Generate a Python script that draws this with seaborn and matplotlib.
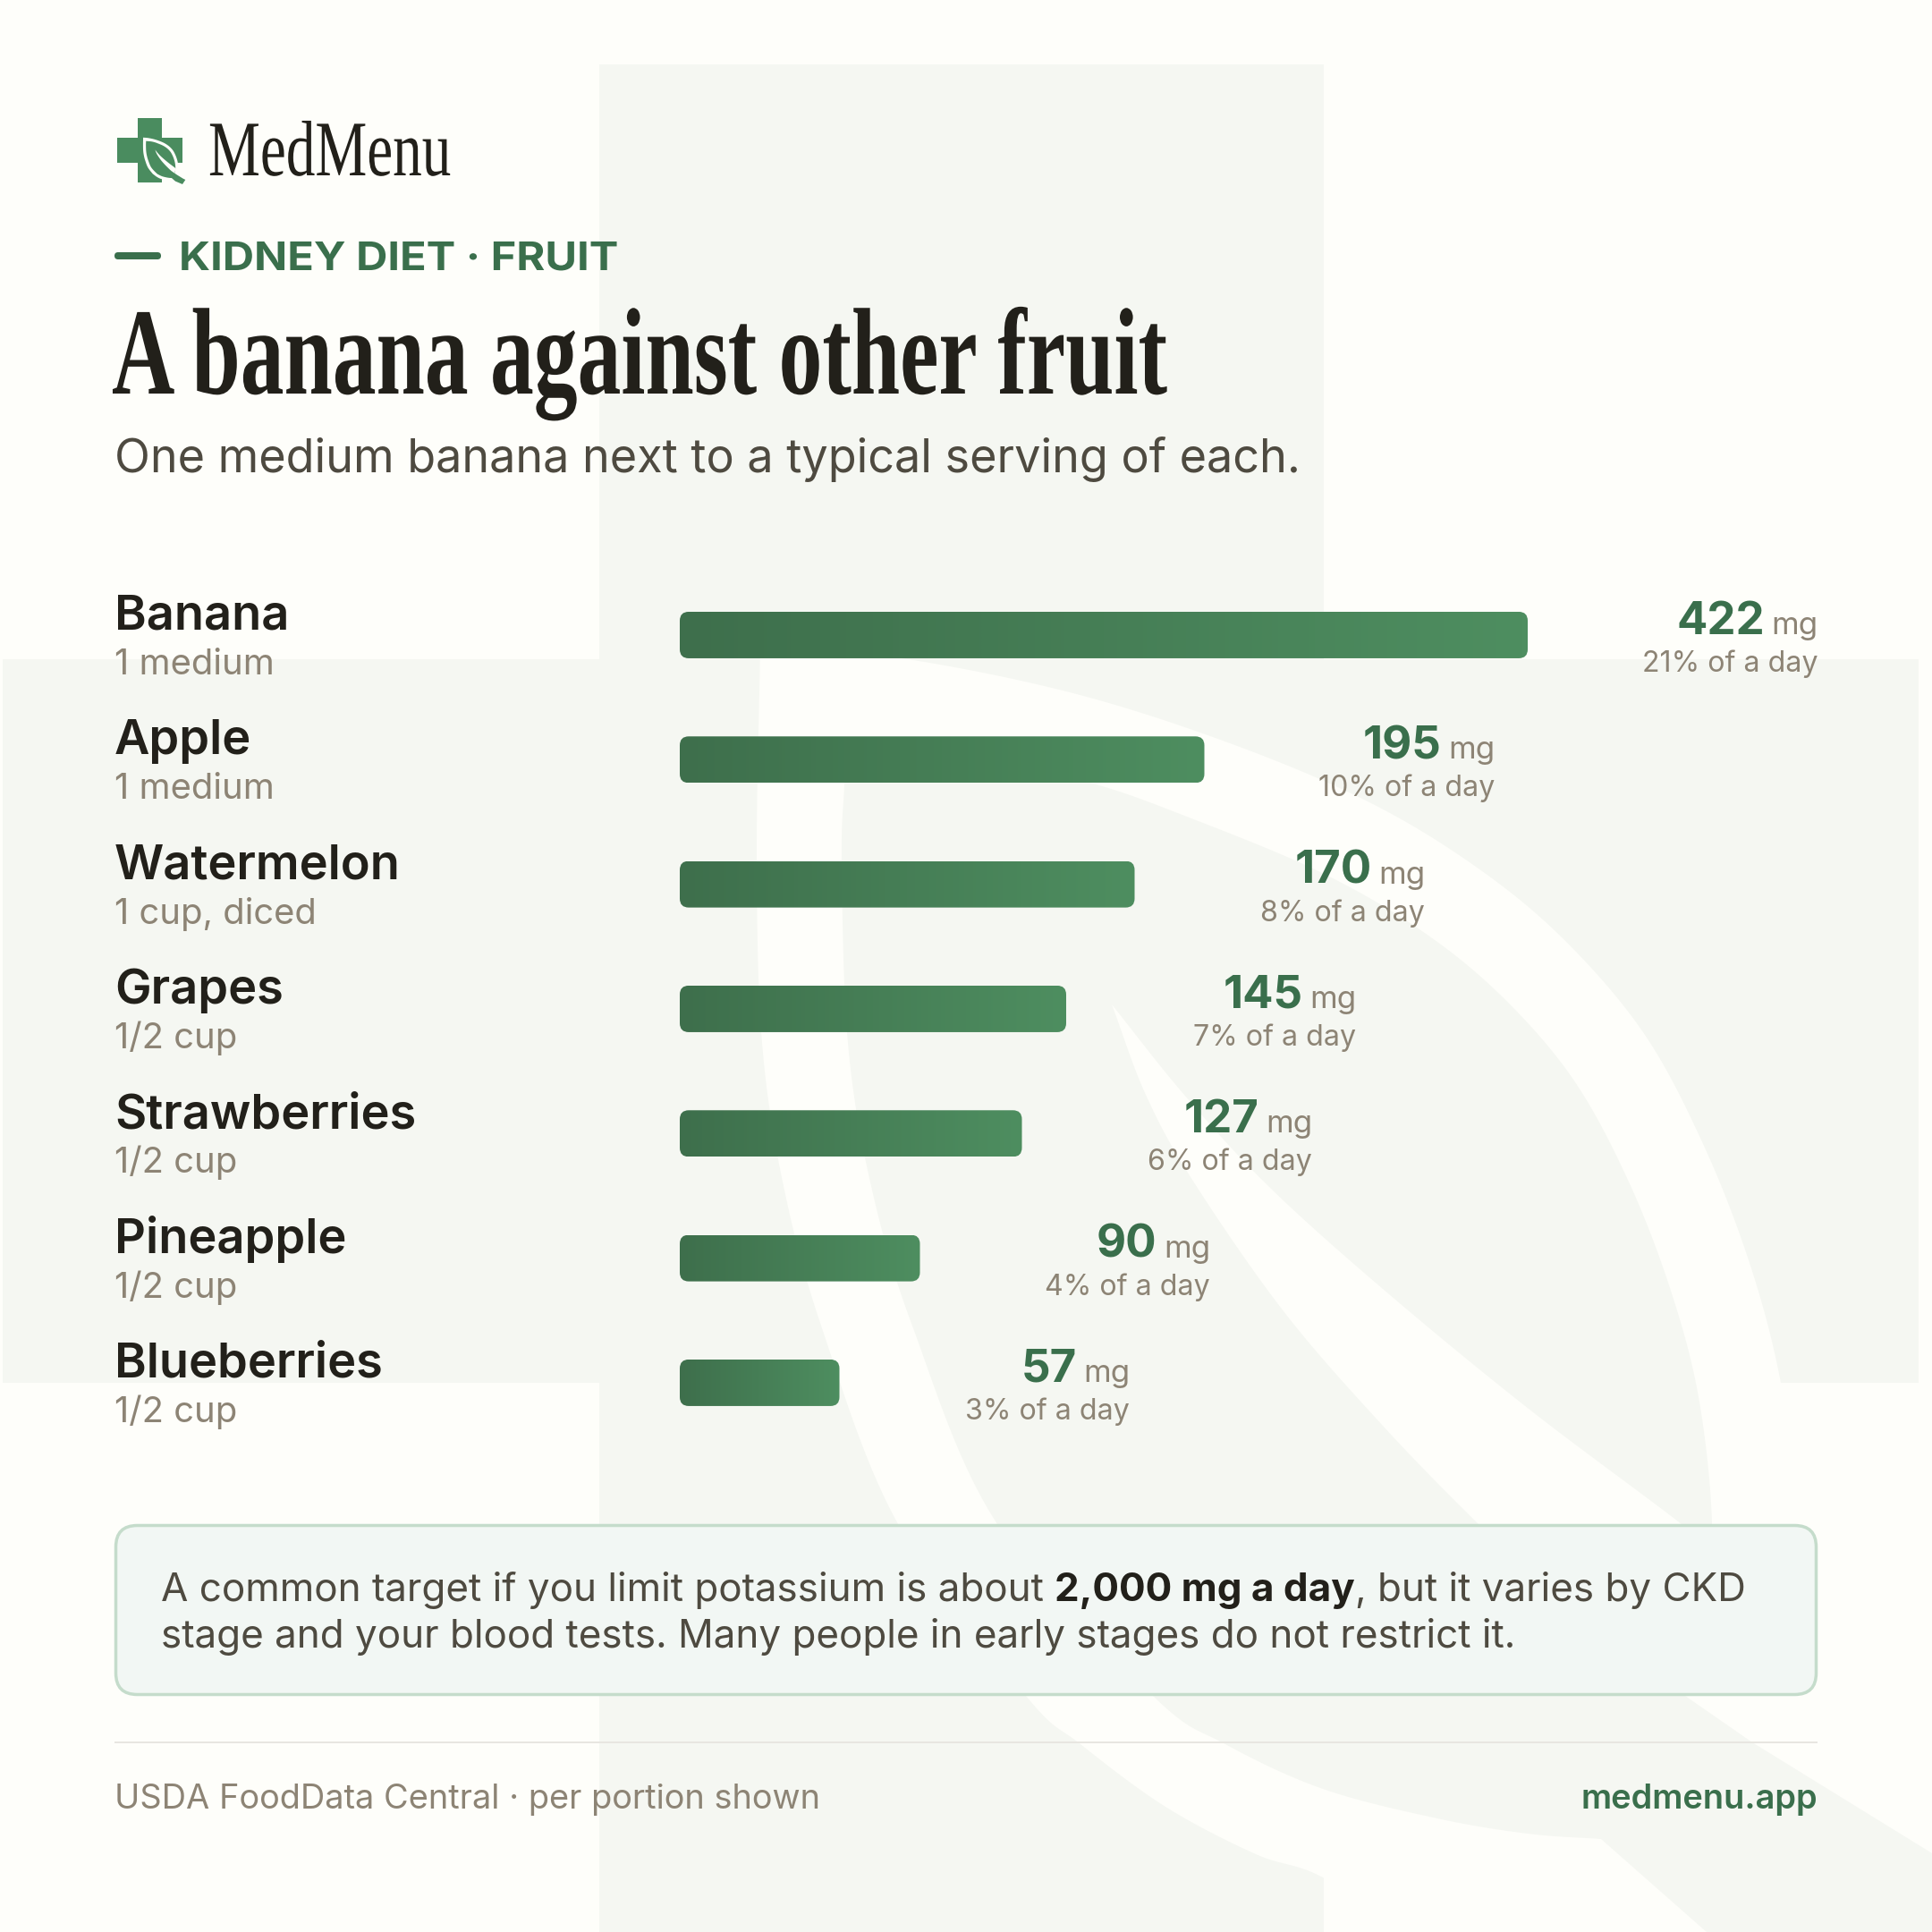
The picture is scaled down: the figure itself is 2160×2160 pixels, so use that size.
import numpy as np
import pandas as pd
import seaborn as sns
import matplotlib
matplotlib.use("Agg")
import matplotlib.pyplot as plt
from matplotlib.patches import FancyBboxPatch, Polygon
from matplotlib.patheffects import AbstractPathEffect
from matplotlib.transforms import Affine2D
from matplotlib.colors import LinearSegmentedColormap

# ---- data -------------------------------------------------------------
fruits = ["Banana", "Apple", "Watermelon", "Grapes", "Strawberries", "Pineapple", "Blueberries"]
portions = ["1 medium", "1 medium", "1 cup, diced", "1/2 cup", "1/2 cup", "1/2 cup", "1/2 cup"]
potassium_mg = [422, 195, 170, 145, 127, 90, 57]
day_share = ["21%", "10%", "8%", "7%", "6%", "4%", "3%"]
# Bar lengths: the banana bar is drawn shorter than its label.
bar_length = [316, 195.5, 169.5, 144, 127.5, 89.5, 59.5]

BG = "#FEFEFA"; WM = "#F5F7F2"; INK = "#22201A"; BODY = "#4E4A40"; MUTED = "#8D8475"
GREEN = "#3A6F4C"; LOGO = "#4A8C5F"; DARK = "#3E6F4C"; LIGHT = "#4E8E60"
BOX = "#F2F7F4"; BOXEDGE = "#C5DCCB"; RULE = "#E8E6E1"

sns.set_theme(style="white")
plt.rcParams["font.family"] = ["Inter", "DejaVu Sans"]
SERIF = ["Liberation Serif", "DejaVu Serif"]
pt = lambda px: px * 0.72

fig = plt.figure(figsize=(21.6, 21.6), dpi=100, facecolor=BG)
deco = fig.add_axes([0, 0, 1, 1], zorder=0)
deco.set_xlim(0, 2160); deco.set_ylim(2160, 0); deco.axis("off")


class WidthScale(AbstractPathEffect):
    """Keeps the text as text but draws its glyphs wider or narrower about x0 (canvas pixels)."""

    def __init__(self, x0, sx):
        super().__init__()
        self.tf = Affine2D().translate(-x0, 0).scale(sx, 1).translate(x0, 0)

    def draw_path(self, renderer, gc, tpath, affine, rgbFace=None):
        renderer.draw_path(gc, tpath, affine + self.tf, rgbFace)


def smooth(pts, n=14):
    p = np.array(pts, float)
    q = np.vstack([2 * p[0] - p[1], p, 2 * p[-1] - p[-2]])
    out = []
    for i in range(1, len(q) - 2):
        for t in np.linspace(0, 1, n, endpoint=False):
            a, b, c, d = q[i - 1], q[i], q[i + 1], q[i + 2]
            out.append(0.5 * (2 * b + (c - a) * t + (2 * a - 5 * b + 4 * c - d) * t ** 2 + (3 * b - a - 3 * c + d) * t ** 3))
    out.append(p[-1])
    return np.array(out)


outer_top = smooth([(850, 722), (1008, 736), (1196, 774), (1367, 828), (1521, 892), (1640, 962), (1743, 1045),
                    (1837, 1154), (1905, 1281), (1957, 1415), (1991, 1546), (2012, 1700), (2018, 1900)])
outer_left = smooth([(1600, 2175), (1479, 2099), (1404, 2073), (1303, 2020), (1208, 1950), (1147, 1896), (1004, 1704),
                     (919, 1485), (876, 1326), (852, 1166), (846, 962), (850, 722)])
LEAF_OUT = np.vstack([outer_top, [(2018, 2060), (1800, 2200)], outer_left])

inner_top = smooth([(943, 838), (1100, 850), (1222, 876), (1332, 915), (1474, 974), (1584, 1037), (1675, 1110),
                    (1757, 1204), (1819, 1317), (1867, 1440), (1899, 1562), (1914, 1704), (1905, 1810), (1884, 1896)])
stem = np.array([(1959, 1948), (2160, 2072), (2242, 2113), (2144, 2260), (1908, 2160), (1790, 2056)])
inner_low = smooth([(1790, 2056), (1708, 2050), (1607, 2033), (1479, 2000), (1370, 1950), (1289, 1896), (1115, 1704),
                    (1021, 1485), (974, 1326), (948, 1166), (941, 962), (944, 876), (943, 838)])
LEAF_IN = np.vstack([inner_top, stem, inner_low])

vein_up = smooth([(1243, 1123), (1324, 1224), (1418, 1326), (1546, 1441), (1709, 1575), (1880, 1704), (1925, 1745)])
vein_lo = smooth([(1884, 1896), (1770, 1815), (1653, 1704), (1546, 1594), (1435, 1466), (1333, 1319), (1281, 1224), (1243, 1123)])
VEIN = np.vstack([vein_up, vein_lo])

CROSS = np.array([(670, 72), (1480, 72), (1480, 737), (2145, 737), (2145, 1546), (1480, 1546), (1480, 2214),
                  (670, 2214), (670, 1546), (3, 1546), (3, 737), (670, 737)], float)


def emblem(color, tf):
    deco.add_patch(Polygon(tf(CROSS), closed=True, fc=color, ec="none", zorder=1))
    deco.add_patch(Polygon(tf(LEAF_OUT), closed=True, fc=BG, ec="none", zorder=1.1))
    deco.add_patch(Polygon(tf(LEAF_IN), closed=True, fc=color, ec="none", zorder=1.2))
    deco.add_patch(Polygon(tf(VEIN), closed=True, fc=BG, ec="none", zorder=1.3))


emblem(WM, lambda a: a)
emblem(LOGO, lambda a: (a - np.array([3, 72])) / 29.46 + np.array([131.3, 131.7]))

# header
deco.text(233, 196, "MedMenu", family=SERIF, fontsize=pt(88), color=INK, va="baseline", zorder=5,
          path_effects=[WidthScale(233, 0.74)])
deco.add_patch(FancyBboxPatch((128, 282), 52, 8, boxstyle="round,pad=0,rounding_size=4", fc=GREEN, ec="none", zorder=5))
deco.text(200, 302, "KIDNEY DIET · FRUIT", fontsize=pt(44), fontweight="bold", color=GREEN, va="baseline", zorder=5,
          path_effects=[WidthScale(200, 1.109)])
deco.text(125, 440, "A banana against other fruit", family=SERIF, fontweight="bold", fontsize=pt(138), color=INK,
          va="baseline", zorder=5, path_effects=[WidthScale(125, 0.707)])
deco.text(128, 528, "One medium banana next to a typical serving of each.", fontsize=pt(52.2), color=BODY,
          va="baseline", zorder=5)

# chart
frame = pd.DataFrame({"fruit": fruits, "length": bar_length})
ax = fig.add_axes([760 / 2160, 1 - 1615.6 / 2160, 1272 / 2160, 975.3 / 2160], zorder=2)
ax.patch.set_alpha(0)
sns.barplot(data=frame, x="length", y="fruit", order=fruits, orient="h", width=52 / 139.33, color=DARK, ax=ax)
ax.set_xlim(0, 424); ax.set_ylim(6.5, -0.5)
ax.set_xlabel(""); ax.set_ylabel(""); ax.set_xticks([]); ax.set_yticks([])
sns.despine(ax=ax, left=True, bottom=True)

cmap = LinearSegmentedColormap.from_list("bar", [DARK, LIGHT])
grad = np.linspace(0, 1, 256).reshape(1, -1)
aspect = (7 / 975.3) / (424 / 1272)
for rect in list(ax.patches):
    x, y, w, h = rect.get_x(), rect.get_y(), rect.get_width(), rect.get_height()
    rect.set_alpha(0)
    clip = FancyBboxPatch((x, y), w, h, boxstyle="round,pad=0,rounding_size=%f" % (10 / 3),
                          mutation_aspect=aspect, fc="none", ec="none", transform=ax.transData)
    ax.add_patch(clip)
    im = ax.imshow(grad, extent=[x, x + w, y + h, y], aspect="auto", cmap=cmap, interpolation="bilinear", zorder=3)
    im.set_clip_path(clip)
ax.set_xlim(0, 424); ax.set_ylim(6.5, -0.5)

fig.canvas.draw()
rend = fig.canvas.get_renderer()
for i, fruit in enumerate(fruits):
    ax.annotate(fruit, (0, i), xytext=(pt(128 - 760), pt(6)), textcoords="offset points", fontsize=pt(54.2),
                fontweight="semibold", color=INK, va="baseline", annotation_clip=False)
    ax.annotate(portions[i], (0, i), xytext=(pt(128 - 760), pt(-44)), textcoords="offset points", fontsize=pt(40),
                color=MUTED, va="baseline", annotation_clip=False)
    end = bar_length[i]
    mg = ax.annotate("mg", (end, i), xytext=(pt(324.5), pt(1)), textcoords="offset points", fontsize=pt(35),
                     color=MUTED, ha="right", va="baseline", annotation_clip=False)
    mg_w = mg.get_window_extent(rend).width
    ax.annotate(str(potassium_mg[i]), (end, i), xytext=(pt(324.5 - mg_w - 7), pt(1)), textcoords="offset points",
                fontsize=pt(51), fontweight="bold", color=GREEN, ha="right", va="baseline", annotation_clip=False)
    ax.annotate(day_share[i] + " of a day", (end, i), xytext=(pt(324.5), pt(-41)), textcoords="offset points",
                fontsize=pt(32.2), color=MUTED, ha="right", va="baseline", annotation_clip=False)

# note box
deco.add_patch(FancyBboxPatch((129.5, 1705.5), 1901, 189, boxstyle="round,pad=0,rounding_size=24", fc=BOX, ec=BOXEDGE,
                              lw=pt(3.5), zorder=4))
cursor = 180
for seg, wt, col in [("A common target if you limit potassium is about ", "normal", BODY),
                     ("2,000 mg a day", "bold", INK),
                     (", but it varies by CKD", "normal", BODY)]:
    t = deco.text(cursor, 1790, seg, fontsize=pt(44), fontweight=wt, color=col, va="baseline", zorder=5)
    cursor = t.get_window_extent(rend).x1
deco.text(180, 1842, "stage and your blood tests. Many people in early stages do not restrict it.", fontsize=pt(44),
          color=BODY, va="baseline", zorder=5)

# footer
deco.plot([128, 2032], [1948, 1948], color=RULE, lw=pt(2), zorder=5, solid_capstyle="butt")
deco.text(128, 2022, "USDA FoodData Central · per portion shown", fontsize=pt(38), color=MUTED, va="baseline", zorder=5)
deco.text(2032, 2022, "medmenu.app", fontsize=pt(38), fontweight="semibold", color=GREEN, ha="right", va="baseline", zorder=5)

fig.savefig("out.png", dpi=100, facecolor=BG)
